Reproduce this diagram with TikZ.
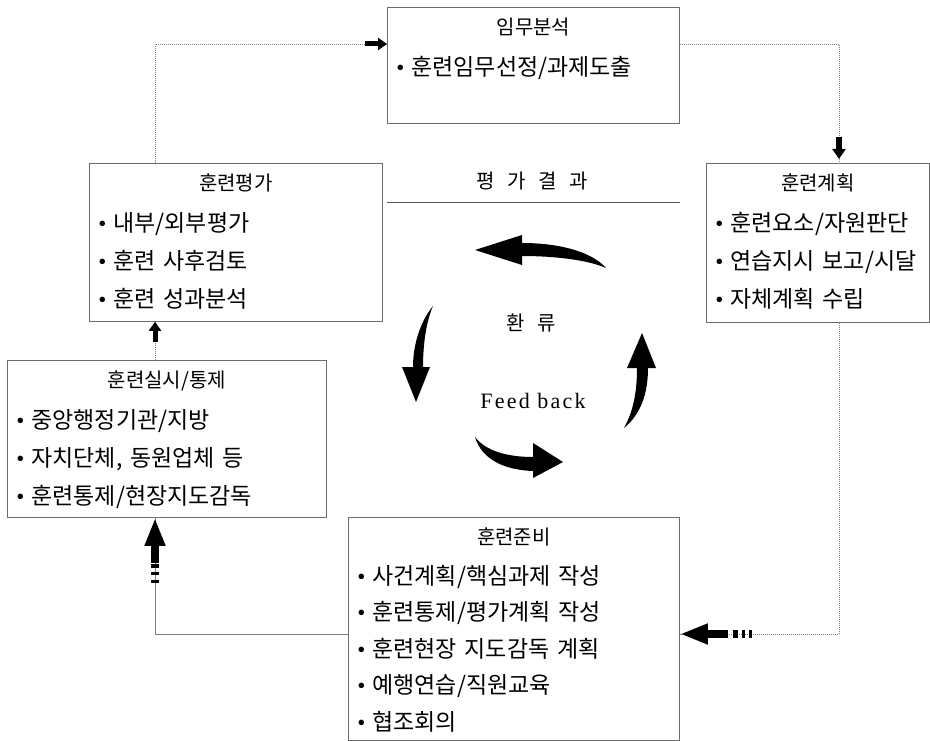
\documentclass[tikz,border=0pt]{standalone}
\usepackage{fontspec}
\setmainfont{Noto Sans CJK KR}[WordSpace=2]
\newfontfamily\krspaced{Noto Sans CJK KR}[WordSpace=2.8]
\newfontfamily\latinserif{Liberation Serif}
\newfontfamily\latinwide{Liberation Serif}[LetterSpace=10]
\usetikzlibrary{arrows.meta,calc}
\newcommand{\bul}{{\latinserif\textbullet}\hspace{7pt}}
\newcommand{\ttl}[1]{{\centering\fontsize{20}{38}\selectfont #1\par}\vspace{3pt}}
\tikzset{
  box/.style={draw=gray!85!black,line width=0.8pt,anchor=north west,inner sep=0pt},
  boxtext/.style={anchor=north,align=left,inner xsep=9pt,inner ysep=11pt,font=\fontsize{23}{38}\selectfont},
  link/.style={draw=gray,line width=0.8pt,dash pattern=on 1pt off 1pt},
  solidlink/.style={draw=gray,line width=0.8pt},
  smallhead/.style={line width=5pt,-{Triangle[length=9pt,width=12pt]}},
  bighead/.style={line width=8.5pt,-{Triangle[length=28pt,width=19pt]}},
  midtext/.style={font=\krspaced\fontsize{20}{24}\selectfont,inner sep=0pt}
}
\begin{document}
\begin{tikzpicture}[x=1pt,y=-1pt]
\useasboundingbox (0,0) rectangle (930,741);
% boxes
\node[box,minimum width=292pt,minimum height=116pt] (mission) at (387,7) {};
\node[box,minimum width=293pt,minimum height=158pt] (evaluate) at (89,163) {};
\node[box,minimum width=223pt,minimum height=159pt] (plan) at (706,163) {};
\node[box,minimum width=319pt,minimum height=157pt] (conduct) at (7,360) {};
\node[box,minimum width=331pt,minimum height=223pt] (prepare) at (348,517) {};
\node[boxtext,text width=274pt] (missiontxt) at (mission.north) {\ttl{임무분석}\bul 훈련임무선정/과제도출};
\node[boxtext,text width=275pt] (evaluatetxt) at (evaluate.north) {\ttl{훈련평가}\bul 내부/외부평가\\ \bul 훈련 사후검토\\ \bul 훈련 성과분석};
\node[boxtext,text width=205pt] (plantxt) at (plan.north) {\ttl{훈련계획}\bul 훈련요소/자원판단\\ \bul 연습지시 보고/시달\\ \bul 자체계획 수립};
\node[boxtext,text width=301pt] (conducttxt) at (conduct.north) {\ttl{훈련실시/통제}\bul 중앙행정기관/지방\\ \bul 자치단체, 동원업체 등\\ \bul 훈련통제/현장지도감독};
\node[boxtext,text width=313pt,font=\fontsize{23}{36.5}\selectfont] (preparetxt) at (prepare.north) {\ttl{훈련준비}\bul 사건계획/핵심과제 작성\\ \bul 훈련통제/평가계획 작성\\ \bul 훈련현장 지도감독 계획\\ \bul 예행연습/직원교육\\ \bul 협조회의};
% centre
\node[midtext] (result) at (532,181) {평 가 결 과};
\draw[gray!70!black,line width=0.8pt] (387,202) -- (680,202);
\node[midtext] (hwan) at (531,323) {환 류};
\node[font=\latinwide\fontsize{22}{26}\selectfont,inner sep=0pt] (feed) at (533,401) {Feed back};
\fill (475,250) -- (522,235) -- (522,243) .. controls (555,243) and (590,250) .. (606,268) .. controls (588,260) and (555,256) .. (522,256) -- (522,265) -- cycle;
\fill (433,306) .. controls (420,322) and (413,345) .. (413,367) -- (402,367) -- (416,402) -- (430,367) -- (423,367) .. controls (423,345) and (426,322) .. (433,306) -- cycle;
\fill (475,437) .. controls (485,450) and (505,457) .. (533,457) -- (533,443) -- (563,462) -- (533,478) -- (533,471) .. controls (505,470) and (482,460) .. (475,437) -- cycle;
\fill (624,428) .. controls (634,410) and (637,390) .. (637,368) -- (627,368) -- (642,333) -- (656,368) -- (648,368) .. controls (648,395) and (640,415) .. (624,428) -- cycle;
% connectors
\coordinate (toMission) at ([yshift=-37pt]mission.north west);
\coordinate (toPlan) at ([xshift=133pt]plan.north west);
\coordinate (toPrepare) at ([yshift=-117pt]prepare.north east);
\coordinate (toConduct) at ([xshift=148pt]conduct.south west);
\coordinate (toEvaluate) at ([xshift=66pt]evaluate.south west);
\draw[link] ([xshift=66pt]evaluate.north west) |- (toMission);
\draw[link] ([yshift=-37pt]mission.north east) -| (toPlan);
\draw[link] ([xshift=133pt]plan.south west) |- (toPrepare);
\draw[solidlink] ([yshift=-117pt]prepare.north west) -| (toConduct);
\draw[link] ([xshift=148pt]conduct.north west) -- (toEvaluate);
\draw[smallhead] ($(toMission)+(-22,0)$) -- (toMission);
\draw[smallhead,line width=6pt,-{Triangle[length=10pt,width=13pt]}] ($(toPlan)+(0,-26)$) -- ($(toPlan)+(0,-4)$);
\draw[smallhead] ($(toEvaluate)+(0,20)$) -- (toEvaluate);
\draw[bighead,dash pattern=on 3pt off 4pt on 3pt off 4pt on 5pt off 5pt on 100pt] ($(toPrepare)+(72,0)$) -- (toPrepare);
\draw[bighead,dash pattern=on 3pt off 4.5pt on 3.5pt off 3.5pt on 4.5pt off 1.2pt on 100pt] ($(toConduct)+(0,65)$) -- (toConduct);
\end{tikzpicture}
\end{document}
